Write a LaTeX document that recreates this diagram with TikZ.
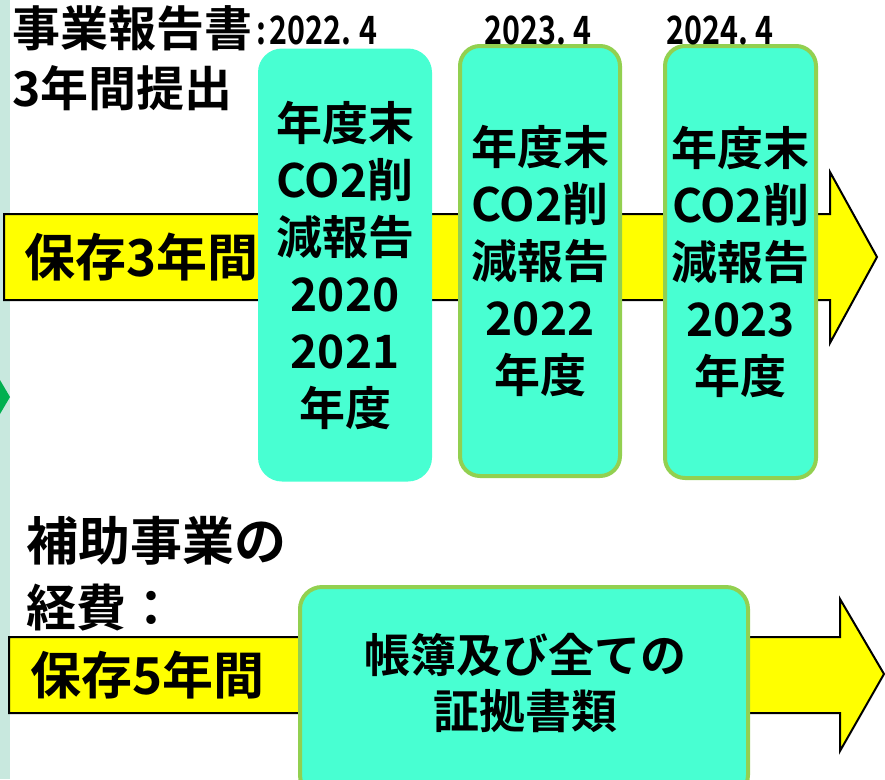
\documentclass[tikz,border=0pt]{standalone}
\usepackage{fontspec}
\newfontfamily\cjk{Noto Sans CJK JP}
\newfontfamily\cjkb{Noto Sans CJK JP Bold}
\usepackage{graphicx}
\definecolor{strip}{RGB}{200,232,222}
\definecolor{tri}{RGB}{0,176,80}
\definecolor{boxfill}{RGB}{72,255,210}
\definecolor{boxline}{RGB}{146,208,80}
\definecolor{arrowfill}{RGB}{255,255,0}
\tikzset{
  bigarrow/.style={draw=black, line width=2pt, fill=arrowfill, line join=miter},
  tealbox/.style={fill=boxfill, rounded corners=24pt, align=center, inner sep=0pt,
    font=\cjkb\fontsize{46}{57}\selectfont},
  edgebox/.style={tealbox, draw=boxline, line width=4pt, rounded corners=20pt},
  title/.style={anchor=west, inner sep=0pt, font=\cjkb\fontsize{48}{50}\selectfont},
  datelbl/.style={inner sep=0pt, font=\cjkb\fontsize{39}{40}\selectfont},
  yellowlbl/.style={anchor=west, inner sep=0pt, font=\cjkb\fontsize{51}{52}\selectfont}
}
\begin{document}
\begin{tikzpicture}[x=1pt,y=-1pt]
\useasboundingbox (0,0) rectangle (885,779);
\fill[white] (0,0) rectangle (885,779);
% left strip
\fill[strip] (0,0) rectangle (10,779);
\fill[tri] (0,380) -- (10,397) -- (0,414) -- cycle;
% arrows
\draw[bigarrow] (4,214) -- (830,214) -- (830,172) -- (877,257) -- (830,343) -- (830,300) -- (4,300) -- cycle;
\draw[bigarrow] (9,637) -- (840,637) -- (840,599) -- (884,674) -- (840,751) -- (840,713) -- (9,713) -- cycle;
% boxes
\node[tealbox, minimum width=174pt, minimum height=433pt] (b1) at (345,265)
  {年度末\\CO2削\\減報告\\2020\\2021\\年度};
\node[edgebox, minimum width=160pt, minimum height=430pt] (b2) at (540,261)
  {年度末\\CO2削\\減報告\\2022\\年度};
\node[edgebox, minimum width=151pt, minimum height=432pt] (b3) at (740.5,262)
  {年度末\\CO2削\\減報告\\2023\\年度};
\node[edgebox, rounded corners=22pt, minimum width=448pt, minimum height=210pt, anchor=north] (b4) at (524,585) {};
\node[inner sep=0pt, align=center, font=\cjkb\fontsize{46}{56}\selectfont] (b4t) at (525,683)
  {帳簿及び全ての\\証拠書類};
% titles
\node[title] (t1) at (12,28) {事業報告書};
\node[datelbl, anchor=west] (d1) at (256,30) {\scalebox{0.78}[1]{:\hspace{5pt}2022.\hspace{10pt}4}};
\node[title] (t2) at (12,88) {3年間提出};
\node[datelbl] (d2) at (538,30) {\scalebox{0.78}[1]{2023.\hspace{10pt}4}};
\node[datelbl] (d3) at (720,30) {\scalebox{0.78}[1]{2024.\hspace{10pt}4}};
\node[yellowlbl] (y1) at (24,257) {保存3年間};
\node[title, font=\cjkb\fontsize{52}{54}\selectfont] (t3) at (26,541) {補助事業の};
\node[title, font=\cjkb\fontsize{50}{54}\selectfont] (t4) at (26,608) {経費：};
\node[yellowlbl] (y2) at (30,675) {保存5年間};
\end{tikzpicture}
\end{document}
